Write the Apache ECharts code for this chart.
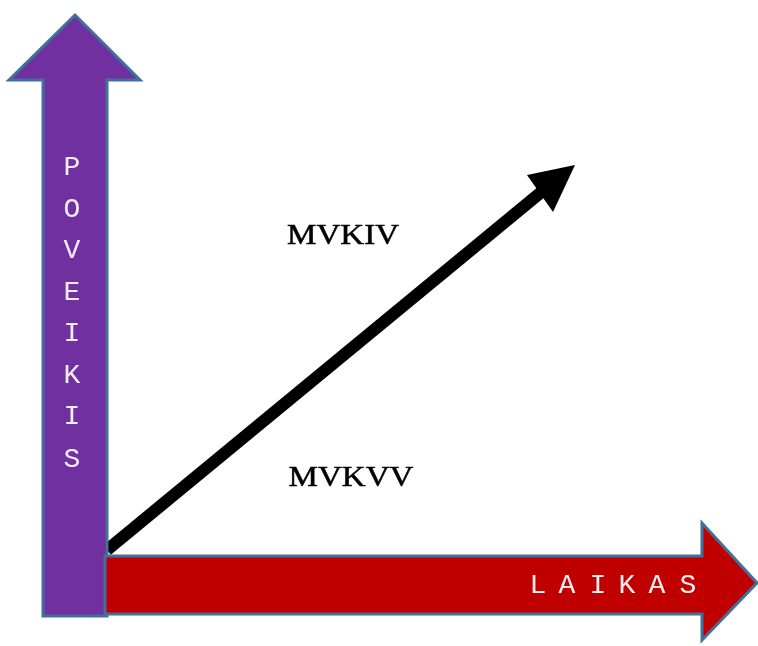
<!DOCTYPE html>
<html>
<head>
<meta charset="utf-8">
<script src="https://cdn.jsdelivr.net/npm/echarts@6/dist/echarts.min.js"></script>
<style>
  html, body { margin: 0; padding: 0; background: #fff; }
  #chart { width: 758px; height: 646px; }
</style>
</head>
<body>
<div id="chart"></div>
<script>
// shapes, in picture coordinates (x right, y down)
const poveikisArrow = [[75, 15], [140, 80], [107, 80], [107, 616], [43, 616], [43, 80], [9, 80]];
const laikasArrow = [[105, 556], [702, 556], [702, 523], [757, 583], [702, 640], [702, 614], [105, 614]];
const trendLine = [[107, 550], [545, 189]];
const trendHead = [[575, 165], [527, 175], [553, 212]];

// labels
const poveikisLetters = ["P", "O", "V", "E", "I", "K", "I", "S"];
const poveikisY = [168, 210, 251, 293, 334, 376, 417, 460];
const poveikisX = 72;
const laikasLetters = ["L", "A", "I", "K", "A", "S"];
const laikasX = [538, 567, 598, 627, 657, 688];
const laikasY = 586;
const midLabels = ["MVKIV", "MVKVV"];
const midLabelPos = [[343, 236], [351, 478]];

const chart = echarts.init(document.getElementById("chart"));

function polygonItem(points, fill, stroke, api) {
  return {
    type: "polygon",
    shape: { points: points.map((p) => api.coord(p)) },
    style: { fill: fill, stroke: stroke, lineWidth: stroke ? 3 : 0, lineJoin: "miter" },
  };
}

const option = {
  animation: false,
  grid: { left: 0, right: 0, top: 0, bottom: 0 },
  xAxis: { type: "value", min: 0, max: 758, show: false },
  yAxis: { type: "value", min: 0, max: 646, inverse: true, show: false },
  series: [
    {
      // black diagonal arrow
      type: "custom",
      data: [0],
      renderItem: function (params, api) {
        const a = api.coord(trendLine[0]);
        const b = api.coord(trendLine[1]);
        return {
          type: "group",
          children: [
            {
              type: "line",
              shape: { x1: a[0], y1: a[1], x2: b[0], y2: b[1] },
              style: { stroke: "#000", lineWidth: 12 },
            },
            polygonItem(trendHead, "#000", null, api),
          ],
        };
      },
    },
    {
      // POVEIKIS arrow
      type: "custom",
      data: [0],
      renderItem: function (params, api) {
        return polygonItem(poveikisArrow, "#7030A0", "#41709C", api);
      },
    },
    {
      // LAIKAS arrow
      type: "custom",
      data: [0],
      renderItem: function (params, api) {
        return polygonItem(laikasArrow, "#C00000", "#41709C", api);
      },
    },
    {
      // texts
      type: "custom",
      data: [0],
      renderItem: function (params, api) {
        const children = [];
        poveikisLetters.forEach((ch, i) => {
          const p = api.coord([poveikisX, poveikisY[i]]);
          children.push({
            type: "text",
            x: p[0],
            y: p[1],
            style: {
              text: ch,
              font: "28px 'Liberation Mono', monospace",
              fill: "#f2ecf6",
              align: "center",
              verticalAlign: "middle",
            },
          });
        });
        laikasLetters.forEach((ch, i) => {
          const p = api.coord([laikasX[i], laikasY]);
          children.push({
            type: "text",
            x: p[0],
            y: p[1],
            style: {
              text: ch,
              font: "28px 'Liberation Mono', monospace",
              fill: "#f6eeee",
              align: "center",
              verticalAlign: "middle",
            },
          });
        });
        midLabels.forEach((t, i) => {
          const p = api.coord(midLabelPos[i]);
          children.push({
            type: "text",
            x: p[0],
            y: p[1],
            scaleX: 1.14,
            style: {
              text: t,
              font: "29px 'Liberation Serif', serif",
              fill: "#000",
              stroke: "#000",
              lineWidth: 0.5,
              align: "center",
              verticalAlign: "middle",
            },
          });
        });
        return { type: "group", children: children };
      },
    },
  ],
};
chart.setOption(option);
</script>
</body>
</html>
